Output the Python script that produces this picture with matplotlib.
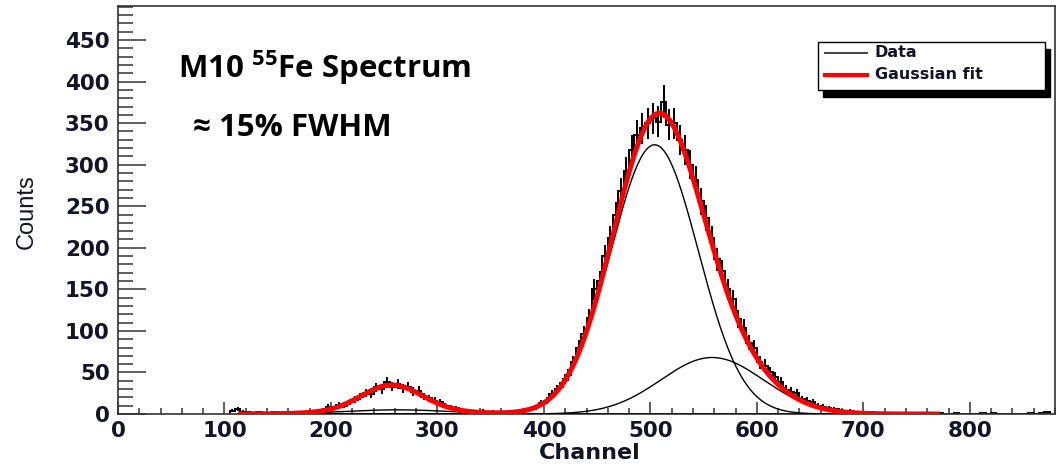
import numpy as np
import matplotlib
matplotlib.use("Agg")
import matplotlib.pyplot as plt
from matplotlib.ticker import MultipleLocator
from matplotlib.patches import Rectangle
from matplotlib.lines import Line2D

# ---- histogram: 5-channel bins starting at channel 105 ----
first_bin = 105
bin_width = 5
counts = [
    4, 6, 3, 2, 1, 2, 1, 1, 2, 1,            # 105-155
    1, 2, 1, 2, 2, 3, 4, 5, 9, 7,            # 155-205
    11, 10, 14, 17, 21, 25, 24, 32, 30, 38,  # 205-255
    33, 36, 31, 33, 27, 28, 21, 19, 16, 14,  # 255-305
    10, 8, 7, 5, 4, 3, 2, 4, 2, 3,           # 305-355
    1, 2, 3, 2, 4, 5, 6, 8, 13, 16,          # 355-405
    24, 30, 37, 47, 62, 80, 96, 116, 150, 160,   # 405-455
    190, 212, 240, 268, 292, 318, 336, 344, 350, 356,  # 455-505
    352, 376, 348, 350, 330, 318, 300, 282, 256, 236,  # 505-555
    212, 186, 172, 150, 138, 114, 104, 86, 80, 62,     # 555-605
    58, 50, 44, 38, 29, 27, 25, 18, 16, 14,  # 605-655
    10, 9, 7, 6, 5, 3, 4, 2, 2, 1,           # 655-705
    2, 1, 0, 1, 0, 1, 0, 1, 0, 0,            # 705-755
    1, 0, 0, 1, 0, 0, 1, 0, 0, 0,            # 755-805
    0, 1, 0, 1, 0, 0, 0, 0, 0, 0,            # 805-855
    1, 0, 1, 2,                              # 855-875
]

# ---- fitted Gaussian components: (amplitude, mean, sigma) ----
escape_peak = (30, 257, 28)
escape_tail = (5, 262, 50)
main_peak = (324, 504, 41)
shoulder = (68, 558, 48)
fit_range = (113, 772)

x_limits = (0, 880)
y_limits = (0, 491)


def gauss(x, amp, mean, sigma):
    return amp * np.exp(-0.5 * ((x - mean) / sigma) ** 2)


counts = np.array(counts, dtype=float)
edges = first_bin + bin_width * np.arange(len(counts) + 1)
centers = 0.5 * (edges[:-1] + edges[1:])

xf = np.linspace(fit_range[0], fit_range[1], 800)
total_fit = (gauss(xf, *escape_peak) + gauss(xf, *escape_tail)
             + gauss(xf, *main_peak) + gauss(xf, *shoulder))

tick_font = dict(family="DejaVu Sans", weight="bold", size=15.5)
tick_color = "#141428"

fig = plt.figure(figsize=(10.59, 4.66), dpi=100)
ax = fig.add_axes([118 / 1059, 1 - 414 / 466, 937 / 1059, 408 / 466])

# data: stepped outline plus Poisson error bars
nz = counts > 0
ax.stairs(counts, edges, color="black", lw=1.4, zorder=2)
ax.errorbar(centers[nz], counts[nz], yerr=np.sqrt(counts[nz]),
            fmt="none", ecolor="black", elinewidth=1.4, capsize=0, zorder=2)

# individual components
for comp in (escape_tail, shoulder, main_peak):
    ax.plot(xf, gauss(xf, *comp), color="black", lw=1.0, zorder=3)

# total fit
ax.plot(xf, total_fit, color="#ff0000", lw=3.6, zorder=4, solid_capstyle="butt")

ax.set_xlim(*x_limits)
ax.set_ylim(*y_limits)
ax.xaxis.set_major_locator(MultipleLocator(100))
ax.xaxis.set_minor_locator(MultipleLocator(20))
ax.yaxis.set_major_locator(MultipleLocator(50))
ax.yaxis.set_minor_locator(MultipleLocator(10))
ax.tick_params(axis="y", which="major", direction="in", length=20, width=1.1,
               color="#333333", pad=6)
ax.tick_params(axis="y", which="minor", direction="in", length=11, width=1.1,
               color="#333333")
ax.tick_params(axis="x", which="major", direction="in", length=8.5, width=1.1,
               color="#333333", pad=5)
ax.tick_params(axis="x", which="minor", direction="in", length=4, width=1.1,
               color="#333333")
ax.tick_params(top=False, right=False)
for lab in ax.get_xticklabels() + ax.get_yticklabels():
    lab.set_fontproperties(matplotlib.font_manager.FontProperties(**tick_font))
    lab.set_color(tick_color)
for sp in ax.spines.values():
    sp.set_linewidth(1.2)
    sp.set_color("#333333")

# axis titles
fig.text(27 / 1059, 1 - 212 / 466, "Counts", rotation=90, ha="center", va="center",
         family="Liberation Sans", size=17, color=tick_color)
fig.text(590 / 1059, 1 - 453 / 466, "Channel", ha="center", va="center",
         family="DejaVu Sans", weight="bold", size=16, color=tick_color)

# annotations
plt.rcParams["mathtext.fontset"] = "custom"
plt.rcParams["mathtext.rm"] = "Open Sans:bold"
plt.rcParams["mathtext.it"] = "Open Sans:bold"
plt.rcParams["mathtext.bf"] = "Open Sans:bold"
ax.text(0.064, 0.824, r"M10 $\mathrm{^{55}}$Fe Spectrum", transform=ax.transAxes,
        family="Open Sans", weight="bold", size=22.5, color="black",
        ha="left", va="baseline")
ax.text(0.080, 0.681, "\u2248 15% FWHM", transform=ax.transAxes,
        family="Open Sans", weight="bold", size=22.5, color="black",
        ha="left", va="baseline")

# legend box with solid drop shadow
lx0, lx1 = (818 - 118) / 937, (1045 - 118) / 937
ly0, ly1 = (414 - 90) / 408, (414 - 42) / 408
dx, dy = 5 / 937, 7 / 408
ax.add_patch(Rectangle((lx0 + dx, ly0 - dy), lx1 - lx0, ly1 - ly0,
                       transform=ax.transAxes, facecolor="black",
                       edgecolor="black", zorder=6, clip_on=False))
ax.add_patch(Rectangle((lx0, ly0), lx1 - lx0, ly1 - ly0, transform=ax.transAxes,
                       facecolor="white", edgecolor="black", lw=1.0, zorder=7,
                       clip_on=False))
leg_entries = [("Data", "#333333", 1.3), ("Gaussian fit", "#ff0000", 3.0)]
row_y = [(414 - 53) / 408, (414 - 75) / 408]
for (label, col, lw), yy in zip(leg_entries, row_y):
    ax.add_line(Line2D([(825 - 118) / 937, (867 - 118) / 937], [yy, yy],
                       transform=ax.transAxes, color=col, lw=lw, zorder=8))
    ax.text((875 - 118) / 937, yy, label, transform=ax.transAxes, ha="left",
            va="center", family="DejaVu Sans", weight="bold", size=11.5,
            color=tick_color, zorder=8)

fig.savefig("out.png", dpi=100)
